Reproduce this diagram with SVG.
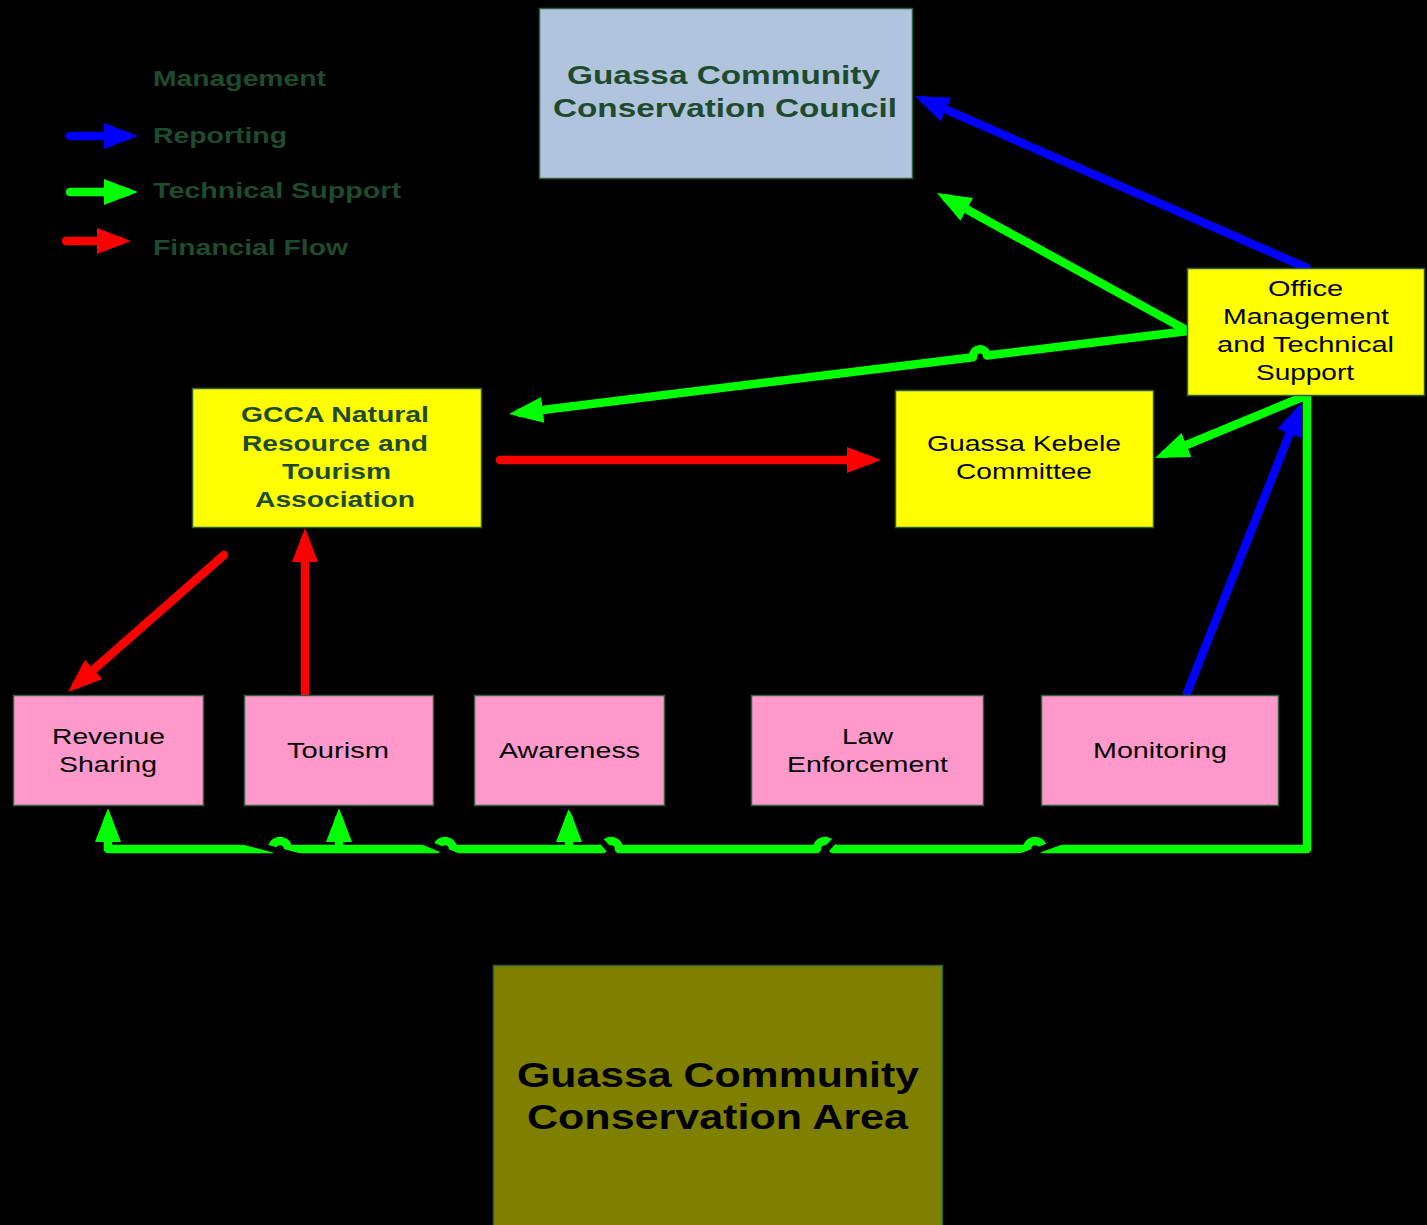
<svg xmlns="http://www.w3.org/2000/svg" width="1427" height="1225" viewBox="0 0 1427 1225">
<style>
text{font-family:"Liberation Sans",Arial,sans-serif;font-size:22px}
.b{font-weight:bold}
.dg{fill:#1e4b2e}
.k{fill:#000}
.box{stroke:#2f5f3f;stroke-width:1.5}
.c{fill:none;stroke-width:8.5;stroke-linecap:round;stroke-linejoin:round}
.blue{stroke:#0000ff}
.green{stroke:#00ff00}
.red{stroke:#ff0000}
.mg{fill:none;stroke:#000;stroke-width:6}
</style>
<defs>
<marker id="ab" viewBox="0 0 34 26" refX="23" refY="13" markerWidth="34" markerHeight="26" markerUnits="userSpaceOnUse" orient="auto"><path d="M0,0 L34,13 L0,26 z" fill="#0000ff"/></marker>
<marker id="ag" viewBox="0 0 34 26" refX="23" refY="13" markerWidth="34" markerHeight="26" markerUnits="userSpaceOnUse" orient="auto"><path d="M0,0 L34,13 L0,26 z" fill="#00ff00"/></marker>
<marker id="ar" viewBox="0 0 34 26" refX="23" refY="13" markerWidth="34" markerHeight="26" markerUnits="userSpaceOnUse" orient="auto"><path d="M0,0 L34,13 L0,26 z" fill="#ff0000"/></marker>
<marker id="ak" viewBox="0 0 10 8" refX="10" refY="4" markerWidth="10" markerHeight="8" markerUnits="userSpaceOnUse" orient="auto"><path d="M0,0 L10,4 L0,8 z" fill="#000"/></marker>
</defs>
<rect width="1427" height="1225" fill="#000"/>

<g id="legend">
<text class="b dg" x="153" y="86" textLength="173" lengthAdjust="spacingAndGlyphs">Management</text>
<line class="c blue" x1="70" y1="136" x2="127" y2="136" marker-end="url(#ab)"/>
<text class="b dg" x="153" y="143" textLength="134" lengthAdjust="spacingAndGlyphs">Reporting</text>
<line class="c green" x1="70" y1="192" x2="127" y2="192" marker-end="url(#ag)"/>
<text class="b dg" x="153" y="198" textLength="248" lengthAdjust="spacingAndGlyphs">Technical Support</text>
<line class="c red" x1="66" y1="241" x2="120" y2="241" marker-end="url(#ar)"/>
<text class="b dg" x="153" y="255" textLength="195" lengthAdjust="spacingAndGlyphs">Financial Flow</text>
</g>

<g id="connectors">
<line class="mg" x1="725" y1="178" x2="1023" y2="390"/>
<line class="c blue" x1="1307" y1="268" x2="925" y2="100.4" marker-end="url(#ab)"/>
<line class="c green" x1="1188" y1="331" x2="946.6" y2="198.3" marker-end="url(#ag)"/>
<path class="c green" d="M1188,331 L987,355.5 A7,7 0 0 0 973,357.2 L519.9,412.7" marker-end="url(#ag)"/>
<line class="c green" x1="1305" y1="396" x2="1165.2" y2="453.8" marker-end="url(#ag)"/>
<line class="c blue" x1="1187" y1="693" x2="1298" y2="412.2" marker-end="url(#ab)"/>
<path class="c green" d="M1307,396 L1307,849 L1043,849 A8,8 0 0 0 1027,849 L833,849 A8,8 0 0 0 817,849 L619,849 A8,8 0 0 0 603,849 L453,849 A8,8 0 0 0 437,849 L288,849 A8,8 0 0 0 272,849 L108,849 L108,819" marker-end="url(#ag)"/>
<line class="c green" x1="339" y1="849" x2="339" y2="819" marker-end="url(#ag)"/>
<line class="c green" x1="569" y1="849" x2="569" y2="819" marker-end="url(#ag)"/>
<line class="c red" x1="500" y1="460" x2="870" y2="460" marker-end="url(#ar)"/>
<line class="c red" x1="224" y1="555" x2="76.3" y2="684.7" marker-end="url(#ar)"/>
<line class="c red" x1="305" y1="694" x2="305" y2="539" marker-end="url(#ar)"/>
<line class="mg" x1="717" y1="966" x2="108" y2="806" marker-end="url(#ak)"/>
<line class="mg" x1="717" y1="966" x2="339" y2="806" marker-end="url(#ak)"/>
<line class="mg" x1="717" y1="966" x2="569" y2="806" marker-end="url(#ak)"/>
<line class="mg" x1="717" y1="966" x2="867" y2="806" marker-end="url(#ak)"/>
<line class="mg" x1="717" y1="966" x2="1160" y2="806" marker-end="url(#ak)"/>
</g>

<g id="council">
<rect class="box" x="539.5" y="8.5" width="373" height="170" fill="#b0c4de"/>
<text class="b dg" x="567" y="84" style="font-size:26px" textLength="313" lengthAdjust="spacingAndGlyphs">Guassa Community</text>
<text class="b dg" x="553" y="117" style="font-size:26px" textLength="344" lengthAdjust="spacingAndGlyphs">Conservation Council</text>
</g>

<g id="office">
<rect class="box" x="1187.5" y="268.5" width="237" height="127" fill="#ffff00"/>
<text class="k" x="1268" y="296" textLength="75" lengthAdjust="spacingAndGlyphs">Office</text>
<text class="k" x="1223" y="324" textLength="166" lengthAdjust="spacingAndGlyphs">Management</text>
<text class="k" x="1217" y="352" textLength="177" lengthAdjust="spacingAndGlyphs">and Technical</text>
<text class="k" x="1256" y="380" textLength="98" lengthAdjust="spacingAndGlyphs">Support</text>
</g>

<g id="gcca">
<rect class="box" x="192.5" y="388.5" width="289" height="139" fill="#ffff00"/>
<text class="b dg" x="241" y="422" textLength="188" lengthAdjust="spacingAndGlyphs">GCCA Natural</text>
<text class="b dg" x="242" y="451" textLength="186" lengthAdjust="spacingAndGlyphs">Resource and</text>
<text class="b dg" x="282" y="479" textLength="109" lengthAdjust="spacingAndGlyphs">Tourism</text>
<text class="b dg" x="255" y="507" textLength="160" lengthAdjust="spacingAndGlyphs">Association</text>
</g>

<g id="kebele">
<rect class="box" x="895.5" y="390.5" width="258" height="137" fill="#ffff00"/>
<text class="k" x="927" y="451" textLength="194" lengthAdjust="spacingAndGlyphs">Guassa Kebele</text>
<text class="k" x="956" y="479" textLength="136" lengthAdjust="spacingAndGlyphs">Committee</text>
</g>

<g id="revenue">
<rect class="box" x="13.5" y="695.5" width="190" height="110" fill="#ff99cc"/>
<text class="k" x="52" y="744" textLength="113" lengthAdjust="spacingAndGlyphs">Revenue</text>
<text class="k" x="59" y="772" textLength="98" lengthAdjust="spacingAndGlyphs">Sharing</text>
</g>

<g id="tourism">
<rect class="box" x="244.5" y="695.5" width="189" height="110" fill="#ff99cc"/>
<text class="k" x="287" y="758" textLength="102" lengthAdjust="spacingAndGlyphs">Tourism</text>
</g>

<g id="awareness">
<rect class="box" x="474.5" y="695.5" width="190" height="110" fill="#ff99cc"/>
<text class="k" x="499" y="758" textLength="141" lengthAdjust="spacingAndGlyphs">Awareness</text>
</g>

<g id="law">
<rect class="box" x="751.5" y="695.5" width="232" height="110" fill="#ff99cc"/>
<text class="k" x="842" y="744" textLength="51" lengthAdjust="spacingAndGlyphs">Law</text>
<text class="k" x="787" y="772" textLength="161" lengthAdjust="spacingAndGlyphs">Enforcement</text>
</g>

<g id="monitoring">
<rect class="box" x="1041.5" y="695.5" width="237" height="110" fill="#ff99cc"/>
<text class="k" x="1093" y="758" textLength="134" lengthAdjust="spacingAndGlyphs">Monitoring</text>
</g>

<g id="area">
<rect class="box" x="493.5" y="965.5" width="449" height="275" fill="#808000"/>
<text class="b k" x="517" y="1087" style="font-size:35px" textLength="402" lengthAdjust="spacingAndGlyphs">Guassa Community</text>
<text class="b k" x="527" y="1129" style="font-size:35px" textLength="381" lengthAdjust="spacingAndGlyphs">Conservation Area</text>
</g>
</svg>
